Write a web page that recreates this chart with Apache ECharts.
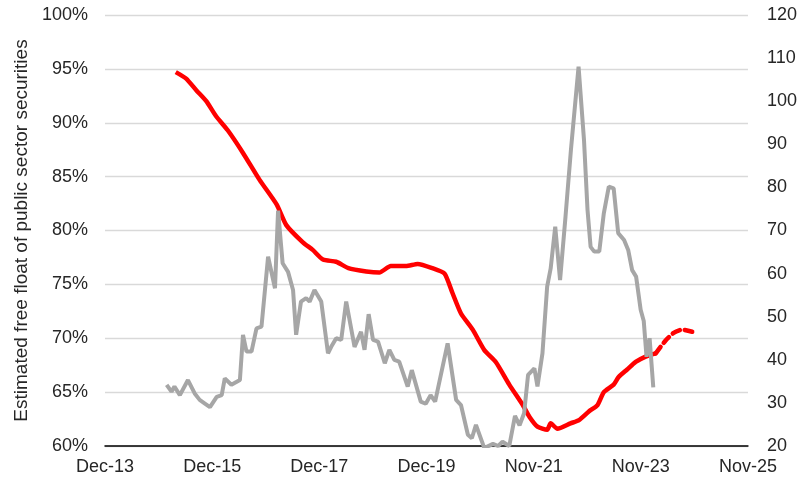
<!DOCTYPE html>
<html>
<head>
<meta charset="utf-8">
<script src="https://cdn.jsdelivr.net/npm/echarts@6/dist/echarts.min.js"></script>
<style>
  html, body { margin: 0; padding: 0; background: #fff; }
  #chart { width: 800px; height: 479px; }
</style>
</head>
<body>
<div id="chart"></div>
<script>
// axis origin (Excel date axis, 730-day major unit)
const axisStart = "2013-12-02";
const tickDays = 730;

// free float (left axis, %)
const floatDates = [
  "2015-03-29", "2015-06-08", "2015-08-17", "2015-10-23", "2015-12-29", "2016-03-17",
  "2016-06-29", "2016-10-20", "2017-02-14", "2017-04-20", "2017-08-11", "2017-10-17",
  "2017-12-26", "2018-03-26", "2018-06-17", "2018-10-17", "2019-01-14", "2019-04-02",
  "2019-07-14", "2019-10-02", "2020-01-11", "2020-04-02", "2020-05-26", "2020-07-23",
  "2020-10-11", "2020-12-29", "2021-03-17", "2021-06-17", "2021-09-17", "2021-11-02",
  "2021-12-26", "2022-03-02", "2022-03-26", "2022-05-11", "2022-08-08", "2022-10-05",
  "2022-12-11", "2023-02-08", "2023-03-23", "2023-05-29", "2023-07-02", "2023-08-29",
  "2023-10-26", "2024-01-02", "2024-03-11"
];
const floatValues = [
  94.7, 94.1, 93.0, 92.0, 90.6, 89.3,
  87.2, 84.7, 82.4, 80.5, 78.9, 78.2,
  77.3, 77.1, 76.5, 76.2, 76.1, 76.7,
  76.7, 76.9, 76.5, 76.0, 74.2, 72.3,
  70.8, 68.9, 67.8, 65.7, 63.8, 62.7,
  61.8, 61.5, 62.1, 61.6, 62.1, 62.4,
  63.2, 63.8, 65.0, 65.7, 66.4, 67.1,
  67.8, 68.3, 68.6
];
// projection (dashed)
const projDates = ["2024-03-11", "2024-05-17", "2024-07-11", "2024-09-08", "2024-11-14"];
const projValues = [68.6, 69.8, 70.5, 70.8, 70.6];

// grey series (right axis)
const greyDates = [
  "2015-01-26", "2015-02-28", "2015-03-20", "2015-04-26", "2015-06-20", "2015-08-05",
  "2015-09-08", "2015-10-11", "2015-11-17", "2016-01-02", "2016-02-05", "2016-02-26",
  "2016-04-11", "2016-06-08", "2016-06-29", "2016-07-23", "2016-08-26", "2016-09-29",
  "2016-11-02", "2016-12-17", "2017-02-02", "2017-02-23", "2017-03-26", "2017-05-02",
  "2017-06-05", "2017-06-26", "2017-07-29", "2017-09-02", "2017-09-26", "2017-10-29",
  "2017-12-14", "2018-01-29", "2018-02-20", "2018-03-26", "2018-04-29", "2018-06-02",
  "2018-07-29", "2018-09-11", "2018-10-05", "2018-11-02", "2018-12-02", "2019-01-05",
  "2019-02-20", "2019-03-23", "2019-04-26", "2019-05-29", "2019-07-26", "2019-08-23",
  "2019-10-23", "2019-11-26", "2019-12-29", "2020-01-29", "2020-04-23", "2020-06-20",
  "2020-07-23", "2020-09-08", "2020-10-05", "2020-11-02", "2020-12-29", "2021-02-26",
  "2021-04-02", "2021-05-02", "2021-06-17", "2021-07-26", "2021-08-26", "2021-09-26",
  "2021-10-23", "2021-12-05", "2021-12-26", "2022-01-29", "2022-03-02", "2022-03-26",
  "2022-04-26", "2022-05-29", "2022-07-05", "2022-08-11", "2022-10-02", "2022-11-08",
  "2022-12-02", "2022-12-23", "2023-01-17", "2023-02-20", "2023-03-23", "2023-04-26",
  "2023-05-29", "2023-06-29", "2023-08-08", "2023-09-05", "2023-10-02", "2023-10-29",
  "2023-11-29", "2023-12-20", "2024-01-08", "2024-01-29", "2024-02-23"
];
const greyValues = [
  34.2, 32.6, 33.8, 31.8, 35.3, 32.2,
  30.7, 29.9, 29.0, 31.4, 31.8, 35.7,
  34.2, 35.3, 45.8, 41.9, 41.9, 47.3,
  47.7, 63.9, 56.6, 74.6, 62.4, 60.4,
  56.2, 45.8, 53.5, 54.3, 53.5, 56.2,
  53.5, 41.5, 43.0, 45.0, 44.6, 53.5,
  43.0, 46.5, 42.3, 50.6, 44.6, 44.2,
  39.2, 42.3, 40.0, 39.6, 33.8, 37.6,
  30.3, 29.8, 31.8, 30.3, 43.8, 30.7,
  29.5, 22.6, 21.8, 24.9, 19.5, 20.5,
  20.0, 21.0, 20.0, 27.0, 24.8, 27.6,
  36.5, 38.0, 33.8, 41.5, 57.0, 61.2,
  70.9, 58.5, 73.2, 88.7, 108.0, 91.0,
  74.8, 66.2, 65.1, 65.1, 74.0, 80.2,
  79.8, 69.4, 67.8, 65.5, 60.8, 59.3,
  51.6, 49.0, 40.7, 45.0, 33.6
];

const DAY = 86400000;
const t0 = Date.parse(axisStart);
const toDays = (d) => (Date.parse(d) - t0) / DAY;
const pair = (dates, vals) => dates.map((d, i) => [toDays(d), vals[i]]);
const MONTHS = ["Jan", "Feb", "Mar", "Apr", "May", "Jun", "Jul", "Aug", "Sep", "Oct", "Nov", "Dec"];

const labelFont = { fontFamily: "Liberation Sans, Arial, sans-serif", fontSize: 18, color: "#262626" };

const chart = echarts.init(document.getElementById("chart"));
chart.setOption({
  animation: false,
  grid: { left: 105, right: 51, top: 15, bottom: 33 },
  xAxis: {
    type: "value",
    min: 0,
    max: tickDays * 6,
    interval: tickDays,
    axisLine: { show: true, lineStyle: { color: "#000", width: 1.5 } },
    axisTick: { show: false },
    splitLine: { show: false },
    axisLabel: {
      ...labelFont,
      margin: 12,
      formatter: (v) => {
        const d = new Date(t0 + v * DAY);
        return MONTHS[d.getUTCMonth()] + "-" + String(d.getUTCFullYear()).slice(2);
      },
    },
  },
  yAxis: [
    {
      type: "value",
      min: 60,
      max: 100,
      interval: 5,
      name: "Estimated free float of public sector securities",
      nameLocation: "middle",
      nameGap: 74,
      nameTextStyle: { fontFamily: "Liberation Sans, Arial, sans-serif", fontSize: 19, color: "#262626" },
      axisLine: { show: false },
      axisTick: { show: false },
      splitLine: { lineStyle: { color: "#d9d9d9", width: 1.3 } },
      axisLabel: { ...labelFont, margin: 17, formatter: "{value}%" },
    },
    {
      type: "value",
      min: 20,
      max: 120,
      interval: 10,
      axisLine: { show: false },
      axisTick: { show: false },
      splitLine: { show: false },
      axisLabel: { ...labelFont, margin: 19 },
    },
  ],
  series: [
    {
      name: "Free float",
      type: "line",
      yAxisIndex: 0,
      data: pair(floatDates, floatValues),
      showSymbol: false,
      smooth: 0.2,
      lineStyle: { color: "#ff0000", width: 4.5 },
      z: 2,
    },
    {
      name: "Free float projection",
      type: "line",
      yAxisIndex: 0,
      data: pair(projDates, projValues),
      showSymbol: false,
      smooth: 0.2,
      lineStyle: { color: "#ff0000", width: 4.5, type: [8, 5], cap: "round" },
      z: 2,
    },
    {
      name: "Grey",
      type: "line",
      yAxisIndex: 1,
      data: pair(greyDates, greyValues),
      showSymbol: false,
      lineStyle: { color: "#a6a6a6", width: 4 },
      z: 3,
    },
  ],
});
</script>
</body>
</html>
